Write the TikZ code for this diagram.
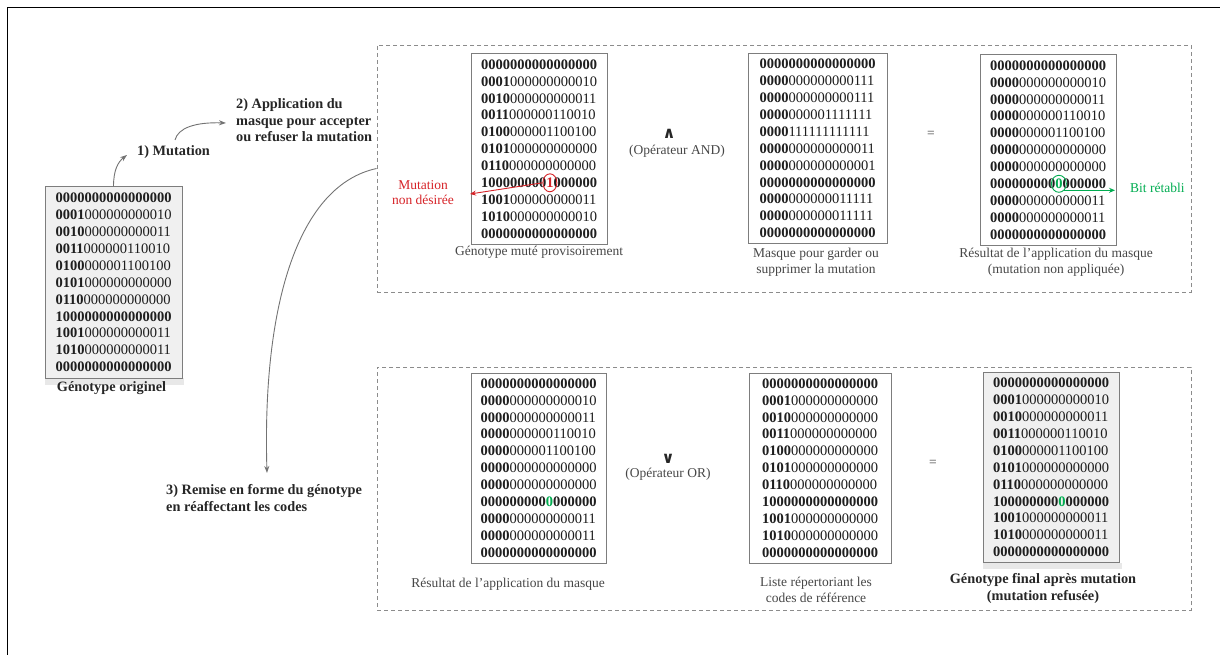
\documentclass[tikz,border=0pt]{standalone}
\usepackage{fontspec}
\setmainfont{Liberation Serif}
\newfontfamily\symfont{DejaVu Sans}
\usetikzlibrary{arrows.meta,shapes.geometric}
\definecolor{myred}{RGB}{214,35,40}
\definecolor{mygreen}{RGB}{0,172,80}
\definecolor{boxgray}{RGB}{125,125,125}
\definecolor{dashgray}{RGB}{140,140,140}
\definecolor{labgray}{RGB}{70,70,70}
\definecolor{arrgray}{RGB}{115,115,115}
\definecolor{digitcol}{RGB}{30,30,30}
\definecolor{fillgray}{RGB}{240,240,240}
\definecolor{shadegray}{RGB}{232,232,232}
\newcommand\B[1]{\textbf{#1}}
\newcommand\rd[1]{\textcolor{myred}{#1}}
\newcommand\gn[1]{\textcolor{mygreen}{#1}}
\begin{document}
\begin{tikzpicture}[x=1pt,y=-1pt,
  mat/.style={draw=boxgray, line width=1pt, fill=white, minimum width=136pt, minimum height=190pt, inner sep=0pt, align=left, text=digitcol, font=\fontsize{14.5}{16.9}\selectfont},
  matg/.style={mat, fill=fillgray},
  panel/.style={draw=dashgray, line width=0.9pt, dash pattern=on 4pt off 3pt, inner sep=0pt, minimum width=814pt},
  lab/.style={font=\fontsize{13.5}{15.5}\selectfont, text=labgray, align=center, inner sep=0pt},
  blab/.style={font=\fontsize{14.3}{16.5}\selectfont\bfseries, text=black!85, align=left, inner sep=0pt},
  op/.style={font=\symfont\bfseries\fontsize{16}{16}\selectfont, text=black!85, inner sep=0pt},
  garrow/.style={draw=arrgray, line width=0.9pt, -{Stealth[length=7pt,width=5pt]}},
  mark circ/.style={ellipse, line width=0.9pt, inner sep=0pt, minimum width=14pt, minimum height=18pt},
]
\useasboundingbox (0,0) rectangle (1220,655);
% outer frame
\draw[line width=1.3pt] (7.3,655) -- (7.3,7.3) -- (1220,7.3);

% panels
\node[panel, minimum height=247pt] (toppanel) at (784,168.5) {};
\node[panel, minimum height=243pt] (botpanel) at (784,488.5) {};

% original genotype
\fill[shadegray] (45,378) rectangle (184,385);
\node[matg, minimum width=137pt, minimum height=191pt] (orig) at (113.5,282.5) {%
\B{0000000000000000}\\
\B{0001}000000000010\\
\B{0010}000000000011\\
\B{0011}000000110010\\
\B{0100}000001100100\\
\B{0101}000000000000\\
\B{0110}000000000000\\
\B{1000000000000000}\\
\B{1001}000000000011\\
\B{1010}000000000011\\
\B{0000000000000000}};
\node[blab, align=center] (origlab) at (111.5,388) {Génotype originel};

% step labels
\node[blab, anchor=west] (step1) at (137,152) {1) Mutation};
\node[blab, anchor=west] (step2) at (236,120.5) {2) Application du\\masque pour accepter\\ou refuser la mutation};
\node[blab, anchor=west] (step3) at (166,498) {3) Remise en forme du génotype\\en réaffectant les codes};

\coordinate (a1end) at (127,155);
\coordinate (a2start) at (175,140);
\coordinate (a2end) at (226,123);
\coordinate (a3end) at (267,473);
\draw[garrow] (orig.north) .. controls (113.5,170) and (118,162) .. (a1end);
\draw[garrow] (a2start) .. controls (178,128) and (195,122) .. (a2end);
\draw[garrow] (toppanel.west) .. controls (300,185) and (262,300) .. (a3end);

% top panel boxes
\node[mat] (b1) at (539,149) {%
\B{0000000000000000}\\
\B{0001}000000000010\\
\B{0010}000000000011\\
\B{0011}000000110010\\
\B{0100}000001100100\\
\B{0101}000000000000\\
\B{0110}000000000000\\
\B{100000000\rd{1}000000}\\
\B{1001}000000000011\\
\B{1010}000000000010\\
\B{0000000000000000}};
\node[lab] (b1lab) at (539,252) {Génotype muté provisoirement};

\node[mat, minimum width=139pt] (b2) at (817.5,148.5) {%
\B{0000000000000000}\\
\B{0000}000000000111\\
\B{0000}000000000111\\
\B{0000}000001111111\\
\B{0000}111111111111\\
\B{0000}000000000011\\
\B{0000}000000000001\\
\B{0000000000000000}\\
\B{0000}000000011111\\
\B{0000}000000011111\\
\B{0000000000000000}};
\node[lab] (b2lab) at (816,262.5) {Masque pour garder ou\\supprimer la mutation};

\node[mat] (b3) at (1048,150) {%
\B{0000000000000000}\\
\B{0000}000000000010\\
\B{0000}000000000011\\
\B{0000}000000110010\\
\B{0000}000001100100\\
\B{0000}000000000000\\
\B{0000}000000000000\\
\B{000000000\gn{0}000000}\\
\B{0000}000000000011\\
\B{0000}000000000011\\
\B{0000000000000000}};
\node[lab] (b3lab) at (1056,262) {Résultat de l’application du masque\\(mutation non appliquée)};

\node[op] (and) at (669,134) {∧};
\node[lab] (andlab) at (677,151) {(Opérateur AND)};
\node[lab] (eq1) at (931,134) {=};

% red mark
\node[mark circ, draw=myred] (redc) at (549.9,182.8) {};
\coordinate (redend) at (470,194);
\draw[myred, line width=0.9pt, -{Stealth[length=6pt,width=5pt]}] (redc.west) -- (redend);
\node[lab, text=myred] (redlab) at (423,192.5) {Mutation\\non désirée};

% green mark
\node[mark circ, draw=mygreen, minimum width=15pt, minimum height=17pt] (greenc) at (1058.9,183.8) {};
\coordinate (gend) at (1115,190);
\draw[mygreen, line width=0.9pt, -{Stealth[length=6pt,width=5pt]}] (greenc.-50) -- (greenc.-50 -| gend);
\node[lab, text=mygreen, anchor=west] (greenlab) at (1130,188) {Bit rétabli};

% bottom panel boxes
\node[mat, minimum width=135pt] (b4) at (538.5,468) {%
\B{0000000000000000}\\
\B{0000}000000000010\\
\B{0000}000000000011\\
\B{0000}000000110010\\
\B{0000}000001100100\\
\B{0000}000000000000\\
\B{0000}000000000000\\
\B{000000000\gn{0}000000}\\
\B{0000}000000000011\\
\B{0000}000000000011\\
\B{0000000000000000}};
\node[lab] (b4lab) at (508,584) {Résultat de l’application du masque};

\node[mat, minimum width=142pt] (b5) at (820,468) {%
\B{0000000000000000}\\
\B{0001}000000000000\\
\B{0010}000000000000\\
\B{0011}000000000000\\
\B{0100}000000000000\\
\B{0101}000000000000\\
\B{0110}000000000000\\
\B{1000000000000000}\\
\B{1001}000000000000\\
\B{1010}000000000000\\
\B{0000000000000000}};
\node[lab] (b5lab) at (816,590) {Liste répertoriant les\\codes de référence};

\fill[shadegray] (983,563) rectangle (1122,569);
\node[matg] (b6) at (1051,467.5) {%
\B{0000000000000000}\\
\B{0001}000000000010\\
\B{0010}000000000011\\
\B{0011}000000110010\\
\B{0100}000001100100\\
\B{0101}000000000000\\
\B{0110}000000000000\\
\B{100000000\gn{0}000000}\\
\B{1001}000000000011\\
\B{1010}000000000011\\
\B{0000000000000000}};
\node[blab, align=center] (b6lab) at (1043,588.5) {Génotype final après mutation\\(mutation refusée)};

\node[op] (or) at (668,459) {∨};
\node[lab] (orlab) at (668,474) {(Opérateur OR)};
\node[lab] (eq2) at (933,463) {=};
\end{tikzpicture}
\end{document}
